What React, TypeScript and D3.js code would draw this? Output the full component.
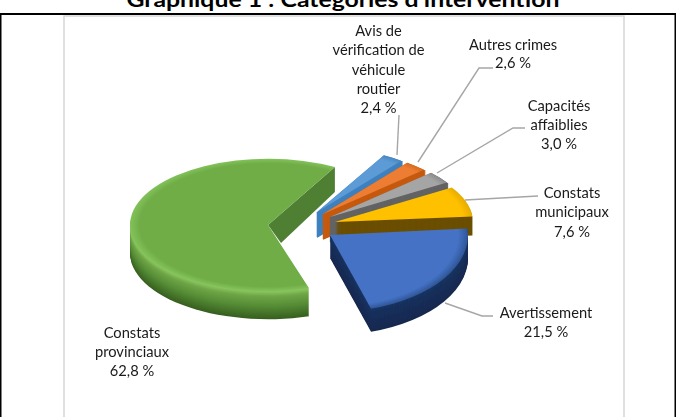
import React from "react";
import * as d3 from "d3";

const categories = ["Avis", "Autres crimes", "Capacités affaiblies", "Constats municipaux", "Avertissement", "Constats provinciaux"];
const shares = [2.4, 2.6, 3.0, 7.6, 21.5, 62.8];
const titleText = "Graphique 1 : Catégories d'intervention";

const labelLines = [
  ["Avis de", "vérification de", "véhicule", "routier", "2,4 %"],
  ["Autres crimes", "2,6 %"],
  ["Capacités", "affaiblies", "3,0 %"],
  ["Constats", "municipaux", "7,6 %"],
  ["Avertissement", "21,5 %"],
  ["Constats", "provinciaux", "62,8 %"],
];
const labelAnchors = [[378.5, 36], [513, 49.5], [559, 111], [572, 198], [546, 318], [132, 338]];
const labelSteps = [19.3, 18.5, 18.8, 19.3, 18.5, 19];
const leaders = [
  [[399, 115], [397, 155]],
  [[493, 68], [479, 68], [418, 162]],
  [[525, 128], [513, 128], [437, 173]],
  [[538, 196], [465, 200]],
  [[445, 303], [482, 316], [493, 316]],
];

const apex = [[317, 212], [323, 214], [330, 217], [335, 222], [330, 235], [268, 225]];
const flatten = [0.47, 0.47, 0.47, 0.47, 0.56, 0.48];
const depth = [25, 25, 25, 19, 23, 28];
const topColors = ["#5b9bd5", "#ed7d31", "#a5a5a5", "#ffc000", "#4472c4", "#70ad47"];
const rimColors = ["#4a86c0", "#d56a20", "#8a8a8a", "#e6ad00", "#2f5597", "#83c25a"];
const sideColors = ["#3f80bf", "#c55a11", "#636363", "#6b4f00", "#1a3260", "#4f7f30"];
const sideDark = ["#3f80bf", "#c55a11", "#636363", "#6b4f00", "#16294f", "#3d6626"];
const radius = 138;
const startDeg = 29;

const pie = d3.pie<number>().sort(null).value((d) => d)
  .startAngle((startDeg * Math.PI) / 180)
  .endAngle(((startDeg + 360) * Math.PI) / 180);
const slices = pie(shares);
const arc = d3.arc<any>().innerRadius(0).outerRadius(radius);
const rad = (d: number) => (d * Math.PI) / 180;

export default function App() {
  const green = slices[5];
  const gi = 5;
  const [gx, gy] = apex[gi];
  const k = flatten[gi];
  const rimPt = { x: gx + radius * Math.sin(rad(startDeg)), y: gy - radius * k * Math.cos(rad(startDeg)) };
  const cutFace = [[rimPt.x, rimPt.y], [rimPt.x, rimPt.y + 25], [gx + 13, gy + 18], [gx, gy]];
  const line = d3.line();
  const depthSteps = d3.range(depth[gi], 0, -1);
  const greenStack = d3.scaleLinear<string>()
    .domain([0, 0.2, 0.55, 1])
    .range(["#8ecb63", "#6ea546", "#558c35", "#37601f"]);

  return (
    <svg width={676} height={417} style={{ position: "absolute", left: 0, top: 0, background: "#fff" }}>
      <defs>
        <filter id="soft" x="-5%" y="-5%" width="110%" height="110%">
          <feGaussianBlur stdDeviation="0.5" />
        </filter>
        {slices.map((_, i) => (
          <radialGradient key={i} id={`top${i}`} gradientUnits="userSpaceOnUse" cx={0} cy={0} r={radius}>
            <stop offset="0.93" stopColor={topColors[i]} />
            <stop offset="1" stopColor={rimColors[i]} />
          </radialGradient>
        ))}
        {depthSteps.map((d) => (
          <linearGradient key={d} id={`gs${d}`} gradientUnits="userSpaceOnUse" x1={130} x2={307} y1={0} y2={0}>
            <stop offset="0.65" stopColor={greenStack(d / depth[gi])} />
            <stop offset="1" stopColor={d3.interpolateRgb(greenStack(d / depth[gi]), "#2f5119")(0.8)} />
          </linearGradient>
        ))}
      </defs>

      <rect x={64} y={16} width={560} height={420} fill="#fff" stroke="#d9d9d9" strokeWidth={1.6} />
      <path d="M0.5,417V14H675.5V417" fill="none" stroke="#000" strokeWidth={2} />
      <text x={343} y={7} textAnchor="middle" fontFamily="Lato" fontWeight={700} fontSize={20} textLength={433} lengthAdjust="spacingAndGlyphs" fill="#000">
        {titleText}
      </text>

      <g filter="url(#soft)">
        {[0, 1, 2, 3, 4].map((i) => {
          const s = slices[i];
          const [ax, ay] = apex[i];
          const steps = d3.range(depth[i], 0, -1);
          const c = (d: number) => d3.interpolateRgb(sideColors[i], sideDark[i])(d / depth[i]);
          return (
            <g key={categories[i]}>
              {steps.map((d) => (
                <path
                  key={d}
                  transform={`translate(${ax},${ay + d}) scale(1,${flatten[i]})`}
                  d={arc(s) as string}
                  fill={c(d)}
                  stroke={i < 3 ? c(d) : "none"}
                  strokeWidth={i < 3 ? 1.6 : 0}
                  vectorEffect="non-scaling-stroke"
                />
              ))}
              <path transform={`translate(${ax},${ay}) scale(1,${flatten[i]})`} d={arc(s) as string} fill={`url(#top${i})`} />
            </g>
          );
        })}

        <path d={line(cutFace as any) + "Z"} fill="#4f7f30" />
        {depthSteps.map((d) => (
          <path
            key={d}
            transform={`translate(${gx},${gy + d}) scale(1,${k})`}
            d={arc({ ...green, endAngle: rad(275) }) as string}
            fill={`url(#gs${d})`}
          />
        ))}
        <path transform={`translate(${gx},${gy}) scale(1,${k})`} d={arc(green) as string} fill={`url(#top${gi})`} />
      </g>

      {leaders.map((pts, i) => (
        <path key={i} d={line(pts as any) as string} fill="none" stroke="#a6a6a6" strokeWidth={1.4} />
      ))}

      {labelLines.map((lines, i) => (
        <text key={i} textAnchor="middle" fontFamily="Lato" fontSize={14.7} fill="#1a1a1a">
          {lines.map((t, j) => (
            <tspan key={j} x={labelAnchors[i][0]} y={labelAnchors[i][1] + j * labelSteps[i]}>{t}</tspan>
          ))}
        </text>
      ))}
    </svg>
  );
}
